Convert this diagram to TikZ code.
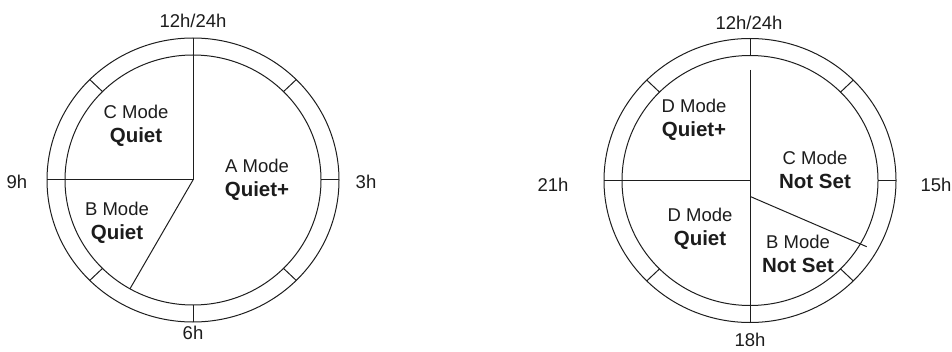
\documentclass[tikz,border=0pt]{standalone}
\usepackage{fontspec}
\setmainfont{Liberation Sans}
\usetikzlibrary{positioning, calc}
\definecolor{LineInk}{HTML}{1E1E1E}
\definecolor{TextInk}{HTML}{1C1C1C}

\newcommand{\setting}[1]{{\fontsize{20.5}{24}\selectfont\bfseries #1}}

\tikzset{
  ring/.style={draw=LineInk, line width=1pt},
  modelabel/.style={align=center, text=TextInk, inner sep=0pt,
    font=\fontsize{18.5}{24}\selectfont},
  hourlabel/.style={text=TextInk, inner sep=0pt,
    font=\fontsize{18.5}{20}\selectfont}
}

\begin{document}
\begin{tikzpicture}[x=1pt, y=1pt]
  \useasboundingbox (0,0) rectangle (952,351);

  % left dial (12h clock)
  \coordinate (lc) at (193,171);
  \draw[ring] (lc) ellipse [x radius=146, y radius=142];
  \draw[ring] (lc) ellipse [x radius=128, y radius=125];
  \foreach \a in {0,45,...,315}
    \draw[ring] ($(lc)+({128*cos(\a)},{125*sin(\a)})$) -- ($(lc)+({146*cos(\a)},{142*sin(\a)})$);
  \draw[ring] (lc) -- ++(0,125);
  \draw[ring] (lc) -- ++(-128,0);
  \draw[ring] (lc) -- ++({128*cos(240.5)},{125*sin(240.5)});

  \node[hourlabel] (l12) at (193,330) {12h/24h};
  \node[hourlabel] (l3) at (366,169) {3h};
  \node[hourlabel] (l6) at (193,18) {6h};
  \node[hourlabel] (l9) at (17,169) {9h};

  \node[modelabel] (lmodeC) at (136,225) {C Mode\\\setting{Quiet}};
  \node[modelabel] (lmodeA) at (257,171) {A Mode\\\setting{Quiet+}};
  \node[modelabel] (lmodeB) at (117,128) {B Mode\\\setting{Quiet}};

  % right dial (24h clock)
  \coordinate (rc) at (750,170.5);
  \draw[ring] (rc) ellipse [x radius=146, y radius=142];
  \draw[ring] (rc) ellipse [x radius=128, y radius=125];
  \foreach \a in {0,45,...,315}
    \draw[ring] ($(rc)+({128*cos(\a)},{125*sin(\a)})$) -- ($(rc)+({146*cos(\a)},{142*sin(\a)})$);
  \coordinate (rtop) at (750,281);
  \coordinate (rslit) at (750.7,154.3);
  \coordinate (rslitend) at (866.7,104.3);
  \draw[ring] (rtop) -- ($(rc)+(0,-125)$);
  \draw[ring] (rc) -- ++(-128,0);
  \draw[ring] (rslit) -- (rslitend);

  \node[hourlabel] (r24) at (749,328) {12h/24h};
  \node[hourlabel] (r15) at (936,166) {15h};
  \node[hourlabel] (r18) at (750,11) {18h};
  \node[hourlabel] (r21) at (553,166) {21h};

  \node[modelabel] (rmodeDa) at (694,231) {D Mode\\\setting{Quiet+}};
  \node[modelabel] (rmodeC) at (815,181) {C Mode\\\setting{Not Set}};
  \node[modelabel] (rmodeDb) at (700,122) {D Mode\\\setting{Quiet}};
  \node[modelabel] (rmodeB) at (798,97) {B Mode\\\setting{Not Set}};
\end{tikzpicture}
\end{document}
